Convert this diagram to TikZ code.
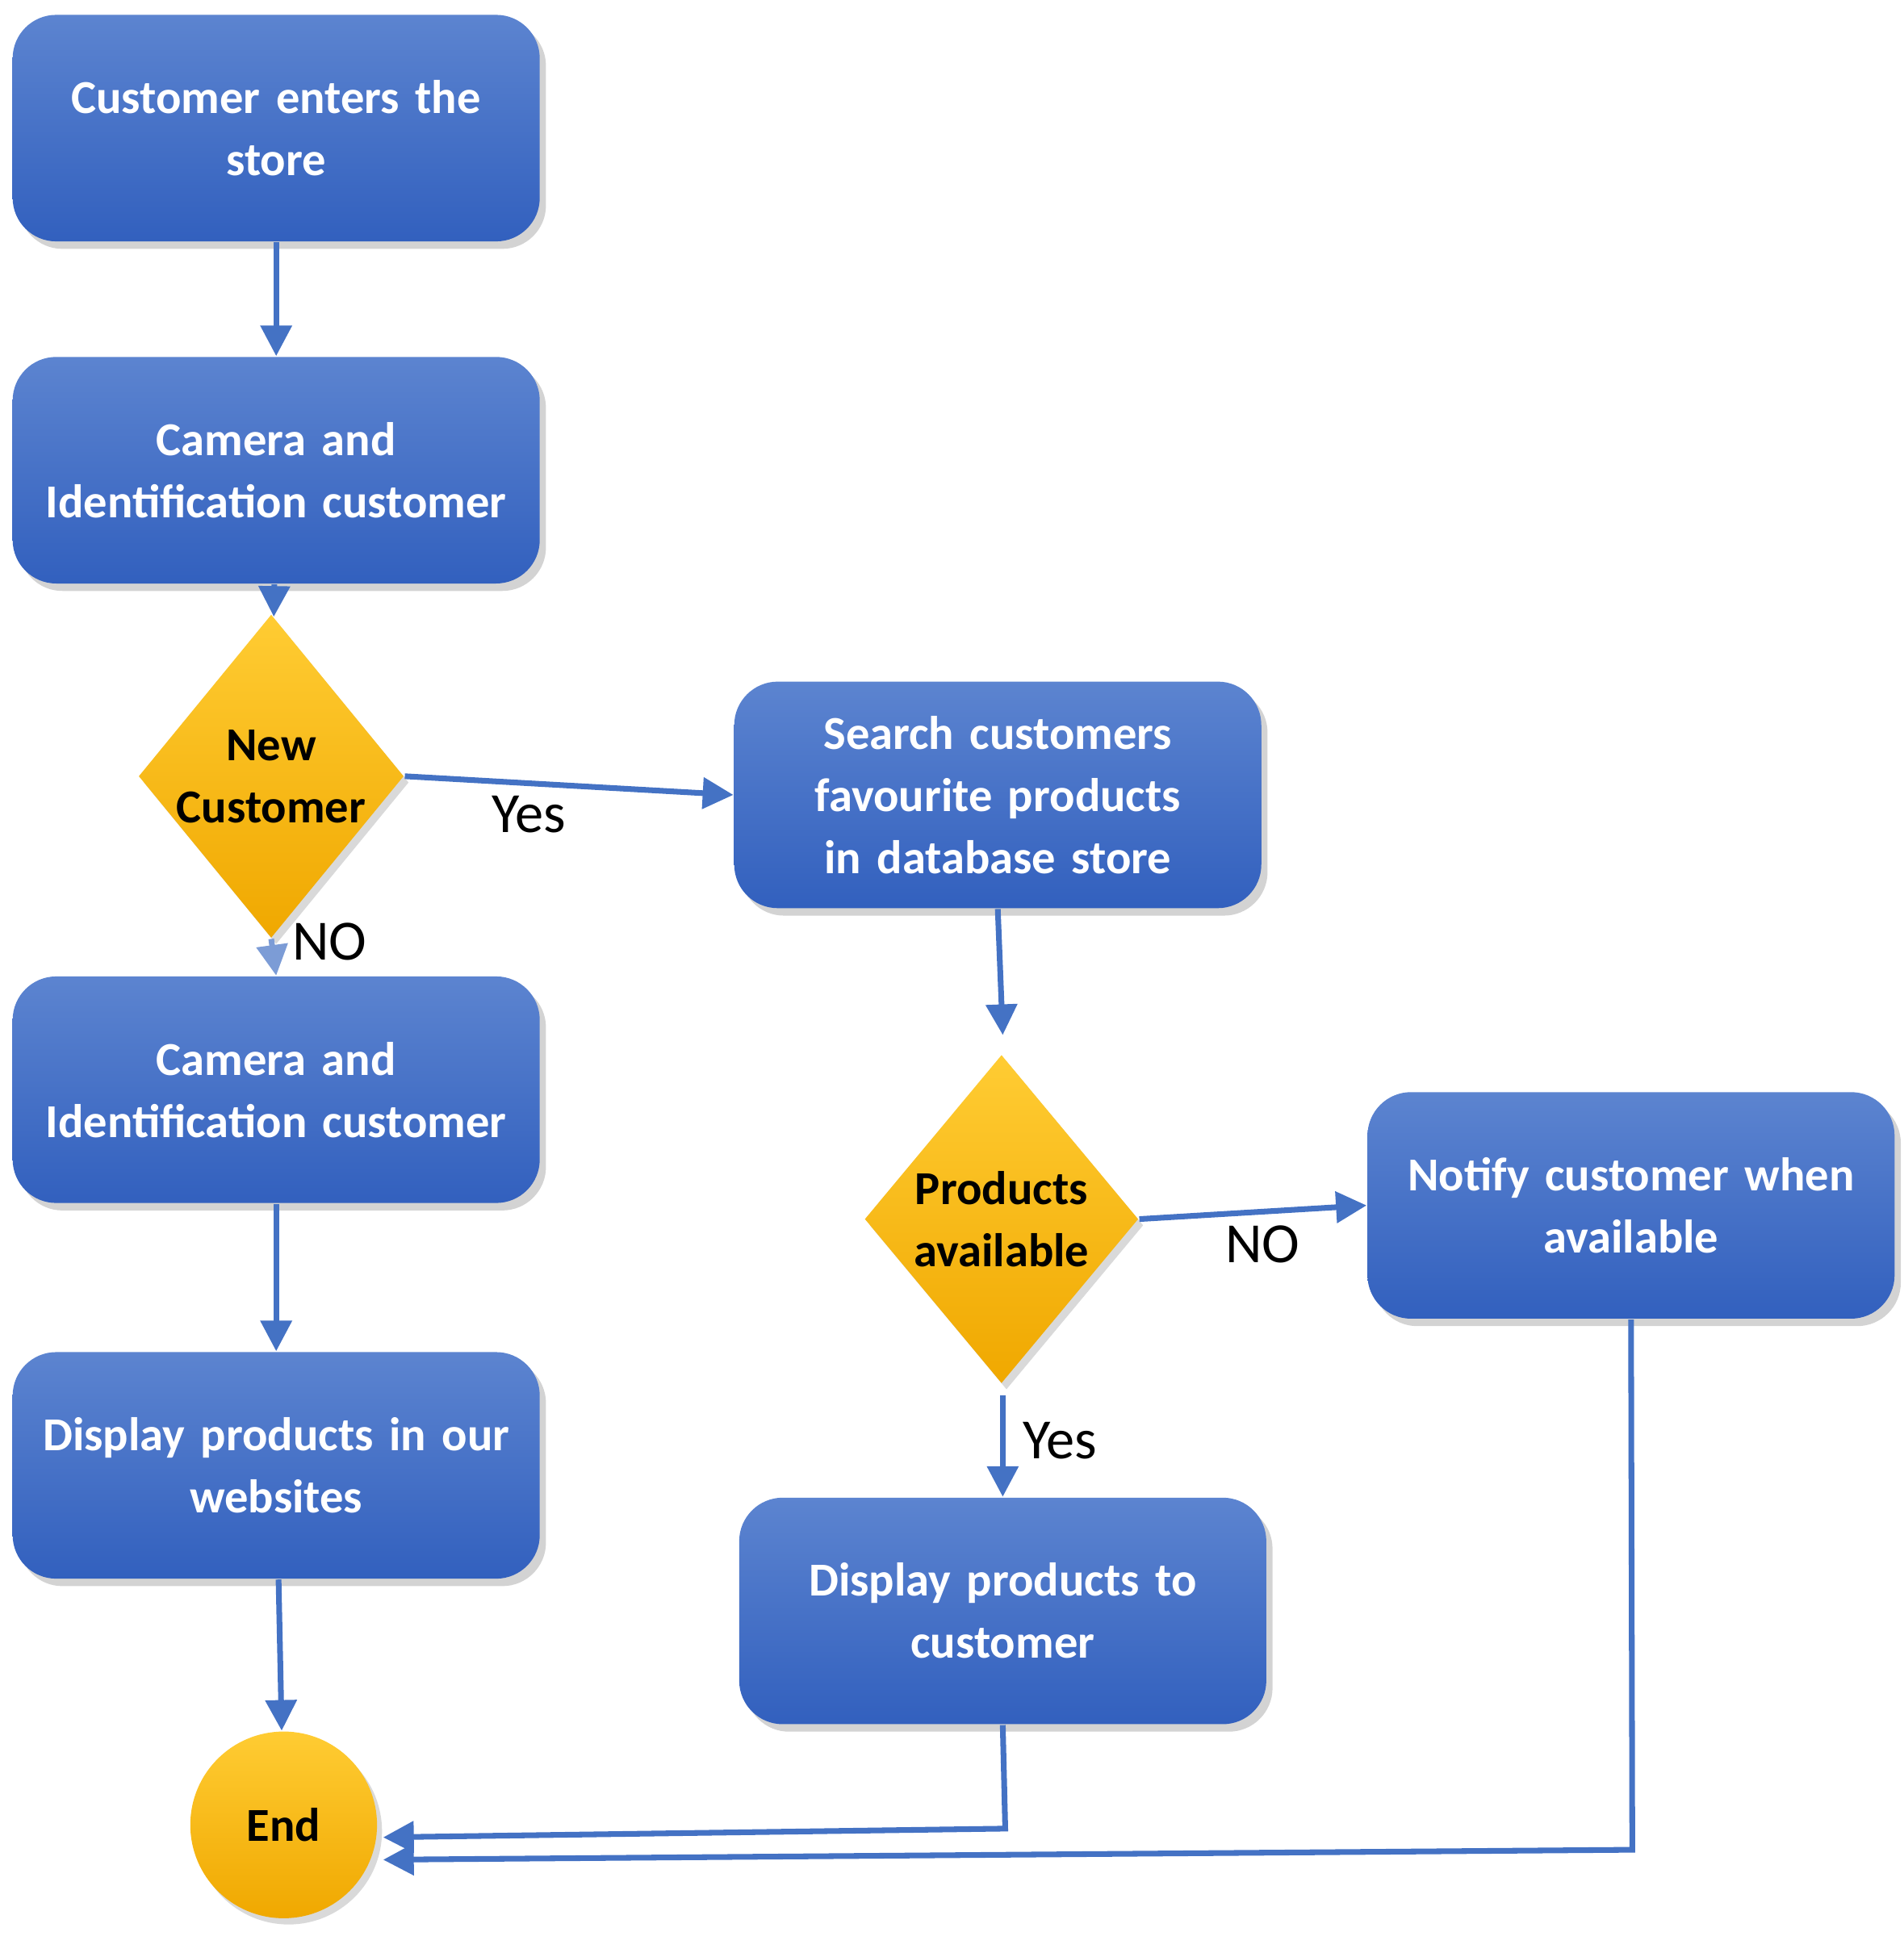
\documentclass[tikz,border=0pt]{standalone}
\usepackage{fontspec}
\setmainfont{Carlito}
\usetikzlibrary{shapes.geometric,shadows,arrows.meta}
\definecolor{ln}{HTML}{4472C4}
\definecolor{btop}{HTML}{5C84D0}
\definecolor{bbot}{HTML}{3260BE}
\definecolor{gtop}{HTML}{FFCC33}
\definecolor{gbot}{HTML}{F0A800}
\begin{document}
\begin{tikzpicture}[x=0.01cm,y=-0.01cm,
 box/.style={rectangle,rounded corners=0.35cm,minimum width=4.05cm,minimum height=1.82cm,
   top color=btop,bottom color=bbot,
   draw=none,drop shadow={shadow xshift=0.05cm,shadow yshift=-0.06cm,opacity=0.35},
   text=white,font=\fontsize{10.8}{14.2}\selectfont\bfseries,align=center,text width=4cm},
 dia/.style={diamond,aspect=#1,inner sep=0pt,top color=gtop,bottom color=gbot,draw=none,
   drop shadow={shadow xshift=0.04cm,shadow yshift=-0.05cm,opacity=0.3},
   font=\fontsize{10.8}{14.2}\selectfont\bfseries,align=center},
 arr/.style={draw=ln,line width=1.3pt,-{Triangle[length=7pt,width=7pt]}},
 lab/.style={font=\fontsize{13}{15}\selectfont,text=black}]
\useasboundingbox (0,0) rectangle (1530,1570);
\node[box] (b1) at (222,103) {Customer enters the\\store};
\node[box] (b2) at (222,378) {Camera and\\Identification customer};
\node[dia=0.82,minimum width=1.67cm,minimum height=2.03cm] (d1) at (218,624) {New\\Customer};
\node[box] (b3) at (802,639) {Search customers\\favourite products\\in database store};
\node[box] (b4) at (222,876) {Camera and\\Identification customer};
\node[box] (b5) at (222,1178) {Display products in our\\websites};
\node[dia=0.83,minimum width=2.2cm,minimum height=2.64cm] (d2) at (805,980) {Products\\available};
\node[box] (b6) at (1311,969) {Notify customer when\\available};
\node[box] (b7) at (806,1295) {Display products to\\customer};
\node[circle,minimum size=1.5cm,top color=gtop,bottom color=gbot,draw=none,
   drop shadow={shadow xshift=0.04cm,shadow yshift=-0.05cm,opacity=0.3},
   font=\fontsize{10.8}{14}\selectfont\bfseries] (e) at (228,1467) {End};
\coordinate (c1) at (806,832);
\coordinate (c2) at (806,1122);
\coordinate (c3) at (808,1470);
\coordinate (c4) at (1312,1487);
\draw[arr] (b1) -- (b2);
\draw[arr] (b2) -- (d1);
\draw[arr] (d1.east) -- (b3.west);
\draw[arr,draw=ln!70] (d1.south) -- (b4.north);
\draw[arr] (b3.south) -- (c1);
\draw[arr] (d2.east) -- (b6.west);
\draw[arr] (c2) -- (b7.north);
\draw[arr] (b4) -- (b5);
\draw[arr] (b5) -- (e);
\draw[arr] (b7.south) -- (c3) -- (308,1477);
\draw[arr] (b6.south) -- (c4) -- (308,1495);
\node[lab] at (425,655) {Yes};
\node[lab] at (265,757) {NO};
\node[lab] at (1015,1000) {NO};
\node[lab] at (852,1158) {Yes};
\end{tikzpicture}
\end{document}
